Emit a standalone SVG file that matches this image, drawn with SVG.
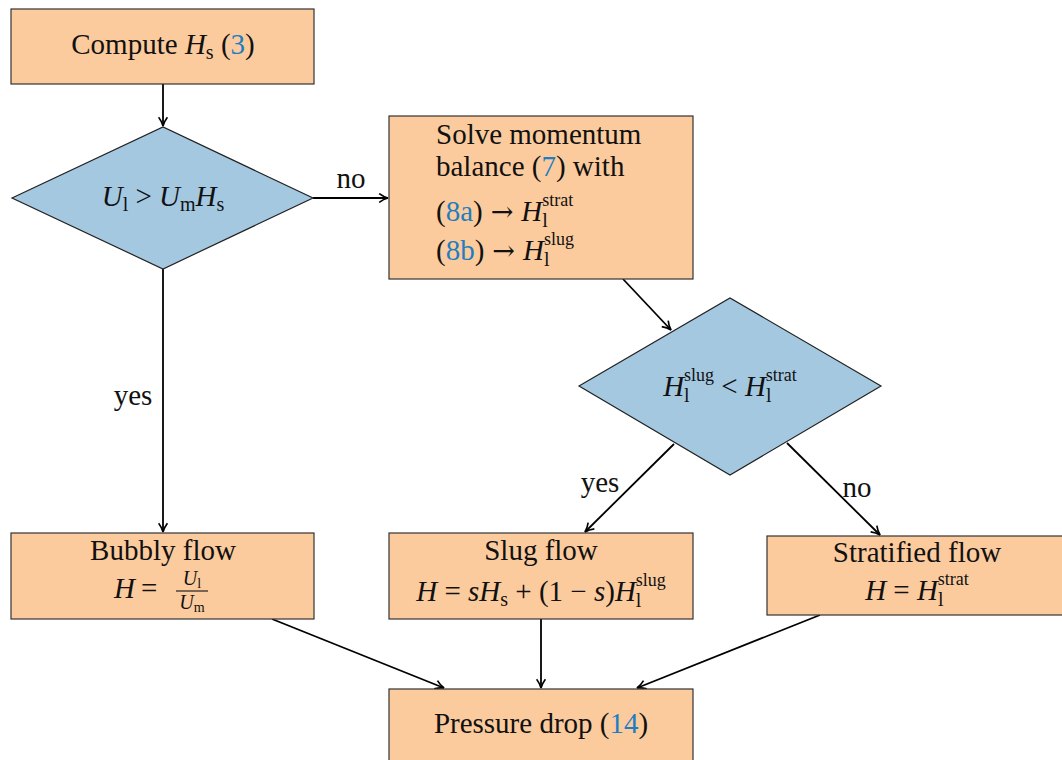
<svg xmlns="http://www.w3.org/2000/svg" width="1062" height="760" viewBox="0 0 1062 760">
<defs>
<marker id="arr" viewBox="0 0 10 10" refX="9" refY="5" markerWidth="11" markerHeight="11" markerUnits="userSpaceOnUse" orient="auto">
<path d="M1,1 Q5,4 9,5 Q5,6 1,9" fill="none" stroke="#000" stroke-width="1.5"/>
</marker>
<style>
.box{fill:#FCCB9D;stroke:#333;stroke-width:1.2}
.dia{fill:#A5C8E1;stroke:#222;stroke-width:1.2}
text{font-family:"Liberation Serif","DejaVu Serif",serif;font-size:29px;fill:#111}
.i{font-style:italic}
.s{font-size:20px}
.p{font-size:18px}
.ar{font-family:"DejaVu Serif",serif;font-size:27px}
.ref{fill:#1F7DC1}
.c{stroke:#000;stroke-width:1.8;fill:none;marker-end:url(#arr)}
</style>
</defs>
<g id="connectors">
<line class="c" x1="163" y1="84" x2="163" y2="126"/>
<line class="c" x1="313" y1="198" x2="388" y2="198"/>
<line class="c" x1="163" y1="269" x2="163" y2="532"/>
<line class="c" x1="623" y1="279" x2="671" y2="330"/>
<line class="c" x1="674" y1="444" x2="585" y2="532"/>
<line class="c" x1="787" y1="443" x2="880" y2="535"/>
<line class="c" x1="272" y1="619" x2="444" y2="688"/>
<line class="c" x1="541" y1="619" x2="541" y2="688"/>
<line class="c" x1="820" y1="615" x2="637" y2="688"/>
<text x="351" y="188" text-anchor="middle">no</text>
<text x="133" y="405" text-anchor="middle">yes</text>
<text x="600" y="492" text-anchor="middle">yes</text>
<text x="857" y="497" text-anchor="middle">no</text>
</g>
<g id="compute">
<rect class="box" x="11" y="9" width="303" height="75"/>
<text x="163" y="54" text-anchor="middle">Compute <tspan class="i">H</tspan><tspan class="s" dy="5">s</tspan><tspan dy="-5"> (</tspan><tspan class="ref">3</tspan>)</text>
</g>
<g id="decision1">
<polygon class="dia" points="12,198 163,127 313,198 163,269"/>
<text x="163" y="206" text-anchor="middle"><tspan class="i">U</tspan><tspan class="s" dy="5">l</tspan><tspan dy="-5"> &gt; </tspan><tspan class="i">U</tspan><tspan class="s" dy="5">m</tspan><tspan class="i" dy="-5">H</tspan><tspan class="s" dy="5">s</tspan></text>
</g>
<g id="solve">
<rect class="box" x="389" y="116" width="304" height="163"/>
<text x="436" y="144">Solve momentum</text>
<text x="436" y="176">balance (<tspan class="ref">7</tspan>) with</text>
<text x="436" y="221">(<tspan class="ref">8a</tspan>)<tspan class="ar" dx="8">→</tspan><tspan class="i" dx="8">H</tspan><tspan class="s" dy="6">l</tspan><tspan class="p" dx="-5.6" dy="-21">strat</tspan></text>
<text x="436" y="260">(<tspan class="ref">8b</tspan>)<tspan class="ar" dx="8">→</tspan><tspan class="i" dx="8">H</tspan><tspan class="s" dy="6">l</tspan><tspan class="p" dx="-5.6" dy="-21">slug</tspan></text>
</g>
<g id="decision2">
<polygon class="dia" points="579,386 730,298 881,386 730,475"/>
<text x="730" y="396" text-anchor="middle"><tspan class="i">H</tspan><tspan class="s" dy="6">l</tspan><tspan class="p" dx="-5.6" dy="-21">slug</tspan><tspan dy="15"> &lt; </tspan><tspan class="i">H</tspan><tspan class="s" dy="6">l</tspan><tspan class="p" dx="-5.6" dy="-21">strat</tspan></text>
</g>
<g id="bubbly">
<rect class="box" x="11" y="533" width="303" height="86"/>
<text x="163" y="560" text-anchor="middle">Bubbly flow</text>
<text x="114" y="598" class="i">H</text>
<text x="141" y="598">=</text>
<text x="192" y="585" text-anchor="middle" class="s"><tspan class="i">U</tspan><tspan font-size="14" dy="3">l</tspan></text>
<line x1="176" y1="591" x2="208" y2="591" stroke="#111" stroke-width="1.1"/>
<text x="192" y="609" text-anchor="middle" class="s"><tspan class="i">U</tspan><tspan font-size="14" dy="3">m</tspan></text>
</g>
<g id="slug">
<rect class="box" x="389" y="533" width="304" height="86"/>
<text x="541" y="560" text-anchor="middle">Slug flow</text>
<text x="541" y="601" text-anchor="middle"><tspan class="i">H</tspan> = <tspan class="i">sH</tspan><tspan class="s" dy="5">s</tspan><tspan dy="-5"> + (1 − </tspan><tspan class="i">s</tspan>)<tspan class="i">H</tspan><tspan class="s" dy="6">l</tspan><tspan class="p" dx="-5.6" dy="-21">slug</tspan></text>
</g>
<g id="stratified">
<rect class="box" x="767" y="536" width="296" height="79"/>
<text x="917" y="562" text-anchor="middle">Stratified flow</text>
<text x="917" y="600" text-anchor="middle"><tspan class="i">H</tspan> = <tspan class="i">H</tspan><tspan class="s" dy="6">l</tspan><tspan class="p" dx="-5.6" dy="-21">strat</tspan></text>
</g>
<g id="pressure">
<rect class="box" x="389" y="689" width="304" height="80"/>
<text x="541" y="733" text-anchor="middle">Pressure drop (<tspan class="ref">14</tspan>)</text>
</g>
</svg>
